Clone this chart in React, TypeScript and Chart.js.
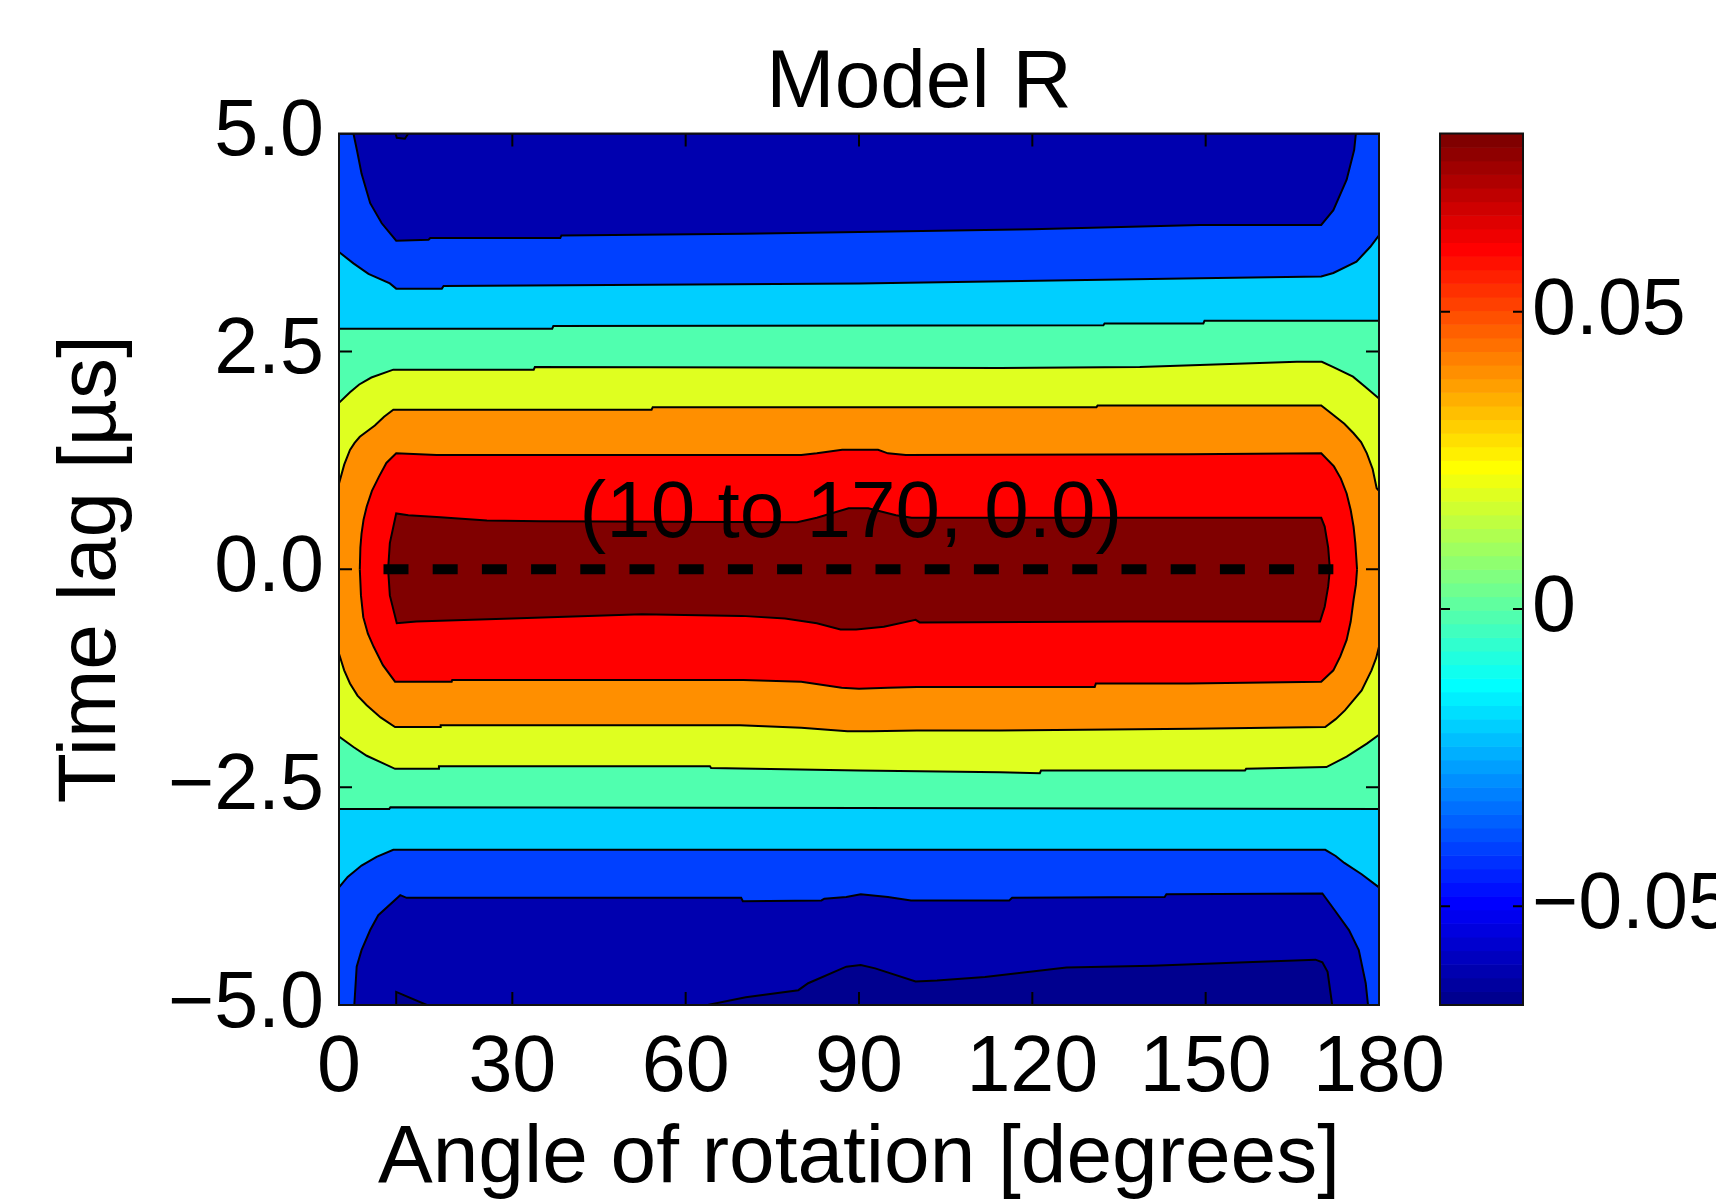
import React, { useEffect, useRef } from 'react';
import { Chart, registerables } from 'chart.js';

Chart.register(...registerables);

type P = [number, number];

// ---------- axes / ticks ----------
const X_TICKS = [0, 30, 60, 90, 120, 150, 180];
const X_TICK_LABELS = ['0', '30', '60', '90', '120', '150', '180'];
const Y_TICKS = [-5, -2.5, 0, 2.5, 5];
const Y_TICK_LABELS = ['\u22125.0', '\u22122.5', '0.0', '2.5', '5.0'];
const CB_TICKS = [-0.05, 0, 0.05];
const CB_TICK_LABELS = ['\u22120.05', '0', '0.05'];
const CB_MIN = -0.0666;
const CB_MAX = 0.08;

const TITLE = 'Model R';
const X_TITLE = 'Angle of rotation [degrees]';
const Y_TITLE = 'Time lag [\u00b5s]';
const ANNOTATION_TEXT = '(10 to 170, 0.0)';
const ANNOTATION_POS: P = [88.6, 0.37];
const DASH_LINE: P[] = [[7.7, 0], [172.1, 0]];

// ---------- contour band colours (outer -> inner) ----------
const LEVEL_COLORS = ['#00008F', '#0000AF', '#0040FF', '#00CFFF', '#50FFAF', '#DFFF20', '#FF8F00', '#FF0000', '#800000'];

// ---------- contour boundaries (angle, time lag) ----------
const L0_UPPER: P[] = [[0, 5], [180, 5]];
const L0_LOWER: P[] = [[0, -5], [180, -5]];

const L1_UPPER: P[] = [[0, 5], [9.8, 5], [10.0, 4.95], [11.4, 4.94], [12.0, 5], [180, 5]];
const L1_LOWER: P[] = [[0, -5], [9.9, -5], [9.9, -4.85], [10.6, -4.87], [15.2, -5], [63.8, -5], [70.4, -4.91], [79.5, -4.83], [81.2, -4.75], [87.8, -4.56], [90.3, -4.54], [92.8, -4.58], [99.8, -4.73], [103.5, -4.72], [111.8, -4.68], [125.9, -4.57], [140.8, -4.55], [157, -4.51], [169, -4.48], [170.2, -4.51], [171.1, -4.62], [171.9, -5], [180, -5]];

const L2_UPPER: P[] = [[0, 5], [2.5, 5], [3.1, 4.81], [3.9, 4.54], [5.4, 4.2], [7.4, 3.97], [9.9, 3.77], [15.5, 3.78], [15.8, 3.8], [38.3, 3.8], [38.5, 3.83], [70, 3.85], [90, 3.87], [120, 3.9], [149, 3.95], [170, 3.95], [172.1, 4.12], [174.4, 4.47], [175.7, 4.81], [176, 5], [180, 5]];
const L2_LOWER: P[] = [[0, -5], [2.65, -5], [3.06, -4.56], [3.9, -4.37], [5.4, -4.14], [6.8, -3.97], [10.6, -3.74], [11.7, -3.77], [69.6, -3.77], [69.9, -3.81], [83.5, -3.8], [84, -3.78], [87.8, -3.76], [90.3, -3.73], [95, -3.76], [99, -3.8], [116, -3.8], [116.5, -3.77], [142.9, -3.76], [143.2, -3.73], [170.2, -3.72], [172.3, -3.91], [174.8, -4.14], [176.5, -4.37], [177.7, -4.75], [178.1, -5], [180, -5]];

const L3_UPPER: P[] = [[0, 3.64], [2.5, 3.51], [5.1, 3.39], [8.8, 3.28], [9.9, 3.22], [17.8, 3.22], [18.1, 3.25], [90, 3.28], [149, 3.34], [170, 3.36], [172.1, 3.4], [176.1, 3.53], [178.5, 3.7], [180, 3.83]];
const L3_LOWER: P[] = [[0, -3.65], [1.5, -3.53], [3.9, -3.4], [6.5, -3.3], [9.4, -3.22], [170.7, -3.22], [172.5, -3.29], [174, -3.37], [177, -3.5], [180, -3.65]];

const L4_UPPER: P[] = [[0, 2.76], [36.9, 2.76], [37.1, 2.79], [132.3, 2.8], [132.5, 2.82], [149.6, 2.82], [149.8, 2.85], [180, 2.85]];
const L4_LOWER: P[] = [[0, -2.75], [8.7, -2.75], [8.9, -2.73], [90, -2.74], [180, -2.75]];

const L5_UPPER: P[] = [[0, 1.91], [1.9, 2.03], [3.5, 2.12], [5.6, 2.2], [9.4, 2.29], [33.7, 2.29], [33.9, 2.32], [114.4, 2.31], [138.6, 2.32], [165.8, 2.38], [170.1, 2.38], [172.1, 2.32], [175.5, 2.21], [177.5, 2.1], [180, 1.96]];
const L5_LOWER: P[] = [[0, -1.92], [2.5, -2.04], [4.8, -2.14], [7.1, -2.21], [9.7, -2.29], [17.2, -2.29], [17.3, -2.26], [64.2, -2.26], [64.4, -2.28], [90, -2.31], [114.4, -2.33], [121.3, -2.34], [121.5, -2.31], [156.8, -2.31], [157, -2.29], [170.9, -2.27], [174.4, -2.15], [177.9, -2.0], [180, -1.9]];

const L6_UPPER: P[] = [[0, 0.985], [0.9, 1.2], [1.9, 1.37], [2.7, 1.45], [3.6, 1.52], [6.2, 1.65], [7.8, 1.75], [9.4, 1.83], [54.1, 1.83], [54.3, 1.86], [131.1, 1.86], [131.3, 1.88], [170, 1.88], [172.1, 1.77], [174, 1.67], [175.6, 1.56], [176.9, 1.46], [177.9, 1.33], [178.9, 1.15], [179.6, 0.93], [180, 0.9]];
const L6_LOWER: P[] = [[0, -0.97], [0.9, -1.16], [1.9, -1.31], [3.2, -1.45], [4.8, -1.56], [7.2, -1.7], [9.7, -1.81], [17.5, -1.81], [17.6, -1.79], [69.4, -1.79], [80, -1.82], [88, -1.86], [92, -1.86], [100, -1.85], [114.4, -1.85], [147.8, -1.83], [170.7, -1.81], [172.5, -1.72], [174.1, -1.62], [177, -1.39], [178.7, -1.16], [179.5, -1.02], [180, -0.89]];

const L7_UPPER: P[] = [[3.6, 0], [3.7, 0.25], [3.9, 0.41], [4.25, 0.57], [4.8, 0.72], [5.7, 0.9], [6.9, 1.06], [8.2, 1.22], [9.9, 1.33], [16.9, 1.31], [80, 1.31], [82.7, 1.33], [87.1, 1.37], [93.3, 1.37], [95, 1.33], [98.1, 1.31], [147, 1.32], [170, 1.33], [172.2, 1.18], [173.4, 1.04], [174.4, 0.87], [175.1, 0.68], [175.6, 0.49], [175.9, 0.3], [176.1, 0.1], [176.2, 0]];
const L7_LOWER: P[] = [[3.6, 0], [3.8, -0.3], [4.2, -0.55], [5.0, -0.74], [6, -0.89], [7.6, -1.1], [9.7, -1.29], [19.5, -1.29], [19.6, -1.27], [70, -1.27], [80, -1.29], [87, -1.36], [90, -1.37], [95, -1.36], [100, -1.35], [130.8, -1.35], [131, -1.31], [147, -1.31], [170, -1.29], [172.1, -1.16], [173.3, -1.0], [174.4, -0.81], [175.1, -0.6], [175.6, -0.35], [176, -0.18], [176.2, 0]];

const L8_UPPER: P[] = [[8.5, 0], [8.8, 0.3], [9.9, 0.64], [12, 0.62], [16.9, 0.6], [25.6, 0.56], [34.8, 0.55], [79.3, 0.54], [82.7, 0.59], [88.2, 0.7], [91.6, 0.7], [96.4, 0.62], [99.1, 0.59], [170, 0.59], [170.6, 0.49], [171.2, 0.25], [171.5, 0]];
const L8_LOWER: P[] = [[8.5, 0], [8.8, -0.3], [10, -0.62], [13.4, -0.6], [29.9, -0.565], [52.4, -0.515], [69.7, -0.535], [77.2, -0.565], [82.7, -0.62], [86.8, -0.69], [89.5, -0.69], [94.3, -0.66], [99.8, -0.58], [100.5, -0.61], [136.6, -0.6], [169.8, -0.6], [170.6, -0.43], [171.2, -0.2], [171.5, 0]];

const LEVEL_UPPER = [L0_UPPER, L1_UPPER, L2_UPPER, L3_UPPER, L4_UPPER, L5_UPPER, L6_UPPER, L7_UPPER, L8_UPPER];
const LEVEL_LOWER = [L0_LOWER, L1_LOWER, L2_LOWER, L3_LOWER, L4_LOWER, L5_LOWER, L6_LOWER, L7_LOWER, L8_LOWER];

// ---------- styling ----------
const FONT = '"Liberation Sans", Arial, Helvetica, sans-serif';
const TICK_FONT = 79;
const TITLE_FONT = 82;
const CONTOUR_W = 2;
const TICK_LEN = 13;
const CB_TICK_LEN = 10;
const CB_GAP = 61;
const CB_WIDTH = 83;
const CANVAS_W = 1838;
const CANVAS_H = 1210;

function jet64(k: number): string {
  const u = (j: number) => (j < 1 || j > 47 ? 0 : j <= 16 ? j / 16 : j <= 31 ? 1 : (48 - j) / 16);
  const c = (v: number) => Math.round(v * 255);
  return `rgb(${c(u(k - 24))},${c(u(k - 8))},${c(u(k + 8))})`;
}

const toXY = (pts: P[]) => pts.map(([x, y]) => ({ x, y }));

const decorPlugin = {
  id: 'decor',
  afterDraw(chart: any) {
    const { ctx, chartArea: a, scales } = chart;
    const xs = scales.x;
    const ys = scales.y;
    const cb = scales.cb;
    ctx.save();
    // annotation
    ctx.fillStyle = '#000';
    ctx.font = `80px ${FONT}`;
    ctx.textAlign = 'center';
    ctx.textBaseline = 'alphabetic';
    ctx.fillText(ANNOTATION_TEXT, xs.getPixelForValue(ANNOTATION_POS[0]), ys.getPixelForValue(ANNOTATION_POS[1]));
    // inward ticks
    ctx.strokeStyle = '#000';
    ctx.lineWidth = 2;
    ctx.beginPath();
    for (const v of X_TICKS) {
      const p = xs.getPixelForValue(v);
      if (p - a.left < 2 || a.right - p < 2) continue;
      ctx.moveTo(p, a.top); ctx.lineTo(p, a.top + TICK_LEN);
      ctx.moveTo(p, a.bottom); ctx.lineTo(p, a.bottom - TICK_LEN);
    }
    for (const v of Y_TICKS) {
      const p = ys.getPixelForValue(v);
      if (p - a.top < 2 || a.bottom - p < 2) continue;
      ctx.moveTo(a.left, p); ctx.lineTo(a.left + TICK_LEN, p);
      ctx.moveTo(a.right, p); ctx.lineTo(a.right - TICK_LEN, p);
    }
    ctx.stroke();
    ctx.strokeStyle = '#111';
    ctx.strokeRect(a.left, a.top, a.right - a.left, a.bottom - a.top);
    // colorbar
    const cl = a.right + CB_GAP;
    const n = 64;
    for (let i = 0; i < n; i++) {
      const v0 = CB_MIN + ((CB_MAX - CB_MIN) * i) / n;
      const v1 = CB_MIN + ((CB_MAX - CB_MIN) * (i + 1)) / n;
      const p0 = cb.getPixelForValue(v0);
      const p1 = cb.getPixelForValue(v1);
      ctx.fillStyle = jet64(i + 1);
      ctx.fillRect(cl, p1, CB_WIDTH, p0 - p1 + 0.6);
    }
    ctx.strokeStyle = '#000';
    ctx.beginPath();
    for (const v of CB_TICKS) {
      const p = cb.getPixelForValue(v);
      ctx.moveTo(cl, p); ctx.lineTo(cl + CB_TICK_LEN, p);
      ctx.moveTo(cl + CB_WIDTH, p); ctx.lineTo(cl + CB_WIDTH - CB_TICK_LEN, p);
    }
    ctx.stroke();
    ctx.strokeStyle = '#111';
    ctx.strokeRect(cl, cb.top, CB_WIDTH, cb.bottom - cb.top);
    ctx.restore();
  },
};

export default function App() {
  const ref = useRef<HTMLCanvasElement>(null);

  useEffect(() => {
    const canvas = ref.current;
    if (!canvas) return;
    Chart.defaults.font.family = FONT;
    Chart.defaults.color = '#000';

    const datasets: any[] = [
      {
        data: toXY(DASH_LINE),
        borderColor: '#000',
        borderWidth: 10,
        borderDash: [25, 24.2],
        borderCapStyle: 'butt',
        pointRadius: 0,
        fill: false,
        tension: 0,
      },
    ];
    for (let k = LEVEL_COLORS.length - 1; k >= 0; k--) {
      datasets.push({
        data: toXY(LEVEL_UPPER[k]),
        borderColor: '#000',
        borderWidth: k === 0 ? 0 : CONTOUR_W,
        backgroundColor: LEVEL_COLORS[k],
        fill: '+1',
        pointRadius: 0,
        tension: 0,
      });
      datasets.push({
        data: toXY(LEVEL_LOWER[k]),
        borderColor: '#000',
        borderWidth: k === 0 ? 0 : CONTOUR_W,
        backgroundColor: LEVEL_COLORS[k],
        fill: false,
        pointRadius: 0,
        tension: 0,
      });
    }

    const noPad = (s: any) => { s.paddingTop = 0; s.paddingBottom = 0; };

    const chart = new Chart(canvas, {
      type: 'line',
      data: { datasets },
      options: {
        responsive: false,
        animation: false,
        devicePixelRatio: 1,
        events: [],
        layout: { padding: 0 },
        plugins: {
          legend: { display: false },
          tooltip: { enabled: false },
          title: {
            display: true,
            text: TITLE,
            color: '#000',
            font: { size: TITLE_FONT, weight: 'normal', family: FONT },
            padding: { top: 35.1, bottom: 0 },
          },
          filler: { drawTime: 'beforeDatasetsDraw', propagate: false },
        } as any,
        scales: {
          x: {
            type: 'linear',
            position: 'bottom',
            min: 0,
            max: 180,
            afterBuildTicks: (s: any) => { s.ticks = X_TICKS.map((v) => ({ value: v })); },
            afterFit: (s: any) => { s.height = CANVAS_H - 1005; },
            grid: { display: false, drawTicks: false },
            border: { display: false },
            ticks: {
              font: { size: TICK_FONT },
              color: '#000',
              padding: 16.8,
              maxRotation: 0,
              minRotation: 0,
              autoSkip: false,
              callback: (_v: any, i: number) => X_TICK_LABELS[i],
            },
            title: {
              display: true,
              text: X_TITLE,
              color: '#000',
              font: { size: TITLE_FONT },
              padding: { top: 0, bottom: 1.8 },
            },
          },
          y: {
            type: 'linear',
            position: 'left',
            min: -5,
            max: 5,
            afterBuildTicks: (s: any) => { s.ticks = Y_TICKS.map((v) => ({ value: v })); },
            afterFit: (s: any) => { s.width = 339; noPad(s); },
            grid: { display: false, drawTicks: false },
            border: { display: false },
            ticks: {
              font: { size: TICK_FONT },
              color: '#000',
              padding: 15,
              autoSkip: false,
              callback: (_v: any, i: number) => Y_TICK_LABELS[i],
            },
            title: {
              display: true,
              text: Y_TITLE,
              color: '#000',
              font: { size: TITLE_FONT },
              padding: { top: 43.1, bottom: 0 },
            },
          },
          cb: {
            type: 'linear',
            position: 'right',
            min: CB_MIN,
            max: CB_MAX,
            afterBuildTicks: (s: any) => { s.ticks = CB_TICKS.map((v) => ({ value: v })); },
            afterFit: (s: any) => { s.width = CANVAS_W - 1379; noPad(s); },
            grid: { display: false, drawTicks: false },
            border: { display: false },
            ticks: {
              font: { size: TICK_FONT },
              color: '#000',
              padding: 153,
              autoSkip: false,
              callback: (_v: any, i: number) => CB_TICK_LABELS[i],
            },
          },
        } as any,
      },
      plugins: [decorPlugin],
    });

    return () => chart.destroy();
  }, []);

  return (
    <div
      style={{
        position: 'fixed',
        left: 0,
        top: 0,
        width: 1716,
        height: 1199,
        overflow: 'hidden',
        background: '#fff',
      }}
    >
      <canvas ref={ref} width={CANVAS_W} height={CANVAS_H} style={{ display: 'block' }} />
    </div>
  );
}
